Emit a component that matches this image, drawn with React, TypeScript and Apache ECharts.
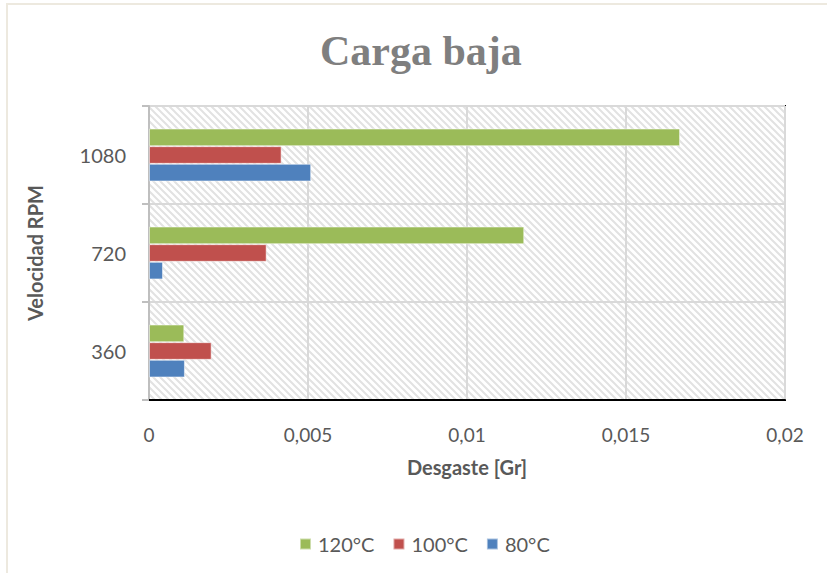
import React, { useEffect, useRef } from "react";
import * as echarts from "echarts";

const categories = ["360", "720", "1080"];
const seriesNames = ["120°C", "100°C", "80°C"];
const values120 = [0.00111, 0.0118, 0.0167];
const values100 = [0.00197, 0.0037, 0.00417];
const values80 = [0.00113, 0.00044, 0.0051];
const legendOrder = ["120°C", "100°C", "80°C"];
const colors = ["#9bbb59", "#c0504d", "#4f81bd"];

function makeHatch(): string {
  const s = 7;
  const c = document.createElement("canvas");
  c.width = s;
  c.height = s;
  const ctx = c.getContext("2d");
  if (ctx) {
    ctx.fillStyle = "#ffffff";
    ctx.fillRect(0, 0, s, s);
    ctx.strokeStyle = "#e2e2e2";
    ctx.lineWidth = 2;
    ctx.beginPath();
    ctx.moveTo(-1, -1);
    ctx.lineTo(s + 1, s + 1);
    ctx.moveTo(-1 - s, -1);
    ctx.lineTo(1, s + 1);
    ctx.moveTo(s - 1, -1);
    ctx.lineTo(2 * s + 1, s + 1);
    ctx.stroke();
  }
  return c.toDataURL();
}

export default function App() {
  const ref = useRef<HTMLDivElement>(null);
  useEffect(() => {
    if (!ref.current) return;
    const chart = echarts.init(ref.current, undefined, { renderer: "svg" });
    const labelFont = "Lato, 'Open Sans', sans-serif";
    const allValues = [values120, values100, values80];
    chart.setOption({
      animation: false,
      backgroundColor: "#ffffff",
      title: {
        text: "Carga baja",
        left: 315,
        top: 25,
        textStyle: {
          fontFamily: "'Liberation Serif', serif",
          fontWeight: "bold",
          fontSize: 42,
          color: "#7f7f7f",
        },
      },
      graphic: [
        {
          type: "rect",
          shape: { x: 7, y: 4, width: 840, height: 600 },
          style: { fill: "none", stroke: "#ede9df", lineWidth: 2 },
          silent: true,
          z: -1,
        },
      ],
      legend: {
        data: legendOrder,
        top: 529,
        left: 294,
        itemWidth: 11,
        itemHeight: 11,
        itemGap: 18,
        icon: "rect",
        textStyle: { fontFamily: labelFont, fontSize: 20, color: "#595959", padding: [0, 0, 0, 2] },
      },
      grid: {
        left: 149,
        right: 42,
        top: 106,
        bottom: 173,
        show: true,
        borderColor: "#000000",
        borderWidth: 2,
        backgroundColor: { image: makeHatch(), repeat: "repeat" },
      },
      xAxis: {
        type: "value",
        min: 0,
        max: 0.02,
        interval: 0.005,
        name: "Desgaste [Gr]",
        nameLocation: "middle",
        nameGap: 57,
        nameTextStyle: {
          fontFamily: labelFont,
          fontSize: 20,
          fontWeight: "bold",
          color: "#595959",
        },
        axisLine: { show: true, lineStyle: { color: "#000000", width: 2 } },
        axisTick: { show: false },
        axisLabel: {
          margin: 25,
          fontFamily: labelFont,
          fontSize: 19,
          color: "#595959",
          formatter: (v: number) => String(Number(v.toFixed(4))).replace(".", ","),
        },
        splitLine: { show: true, lineStyle: { color: "#d9d9d9", width: 2 } },
      },
      yAxis: {
        type: "category",
        data: categories,
        name: "Velocidad RPM",
        nameLocation: "middle",
        nameGap: 104,
        nameRotate: 90,
        nameTextStyle: {
          fontFamily: labelFont,
          fontSize: 20,
          fontWeight: "bold",
          color: "#595959",
        },
        axisLine: { show: true, lineStyle: { color: "#bfbfbf", width: 2 } },
        axisTick: { show: true, length: 7, interval: 0, lineStyle: { color: "#bfbfbf", width: 2 } },
        axisLabel: {
          margin: 23,
          fontFamily: labelFont,
          fontSize: 20,
          color: "#595959",
        },
        splitLine: { show: true, interval: 0, lineStyle: { color: "#d9d9d9", width: 2 } },
      },
      series: seriesNames.map((name, i) => ({
        name,
        type: "bar",
        data: allValues[i],
        barGap: "0%",
        barCategoryGap: "46%",
        itemStyle: { color: colors[i], borderColor: "rgba(255,255,255,0.5)", borderWidth: 1 },
      })),
    });
    return () => chart.dispose();
  }, []);
  return (
    <div
      ref={ref}
      style={{ position: "absolute", left: 0, top: 0, width: 827, height: 573 }}
    />
  );
}
